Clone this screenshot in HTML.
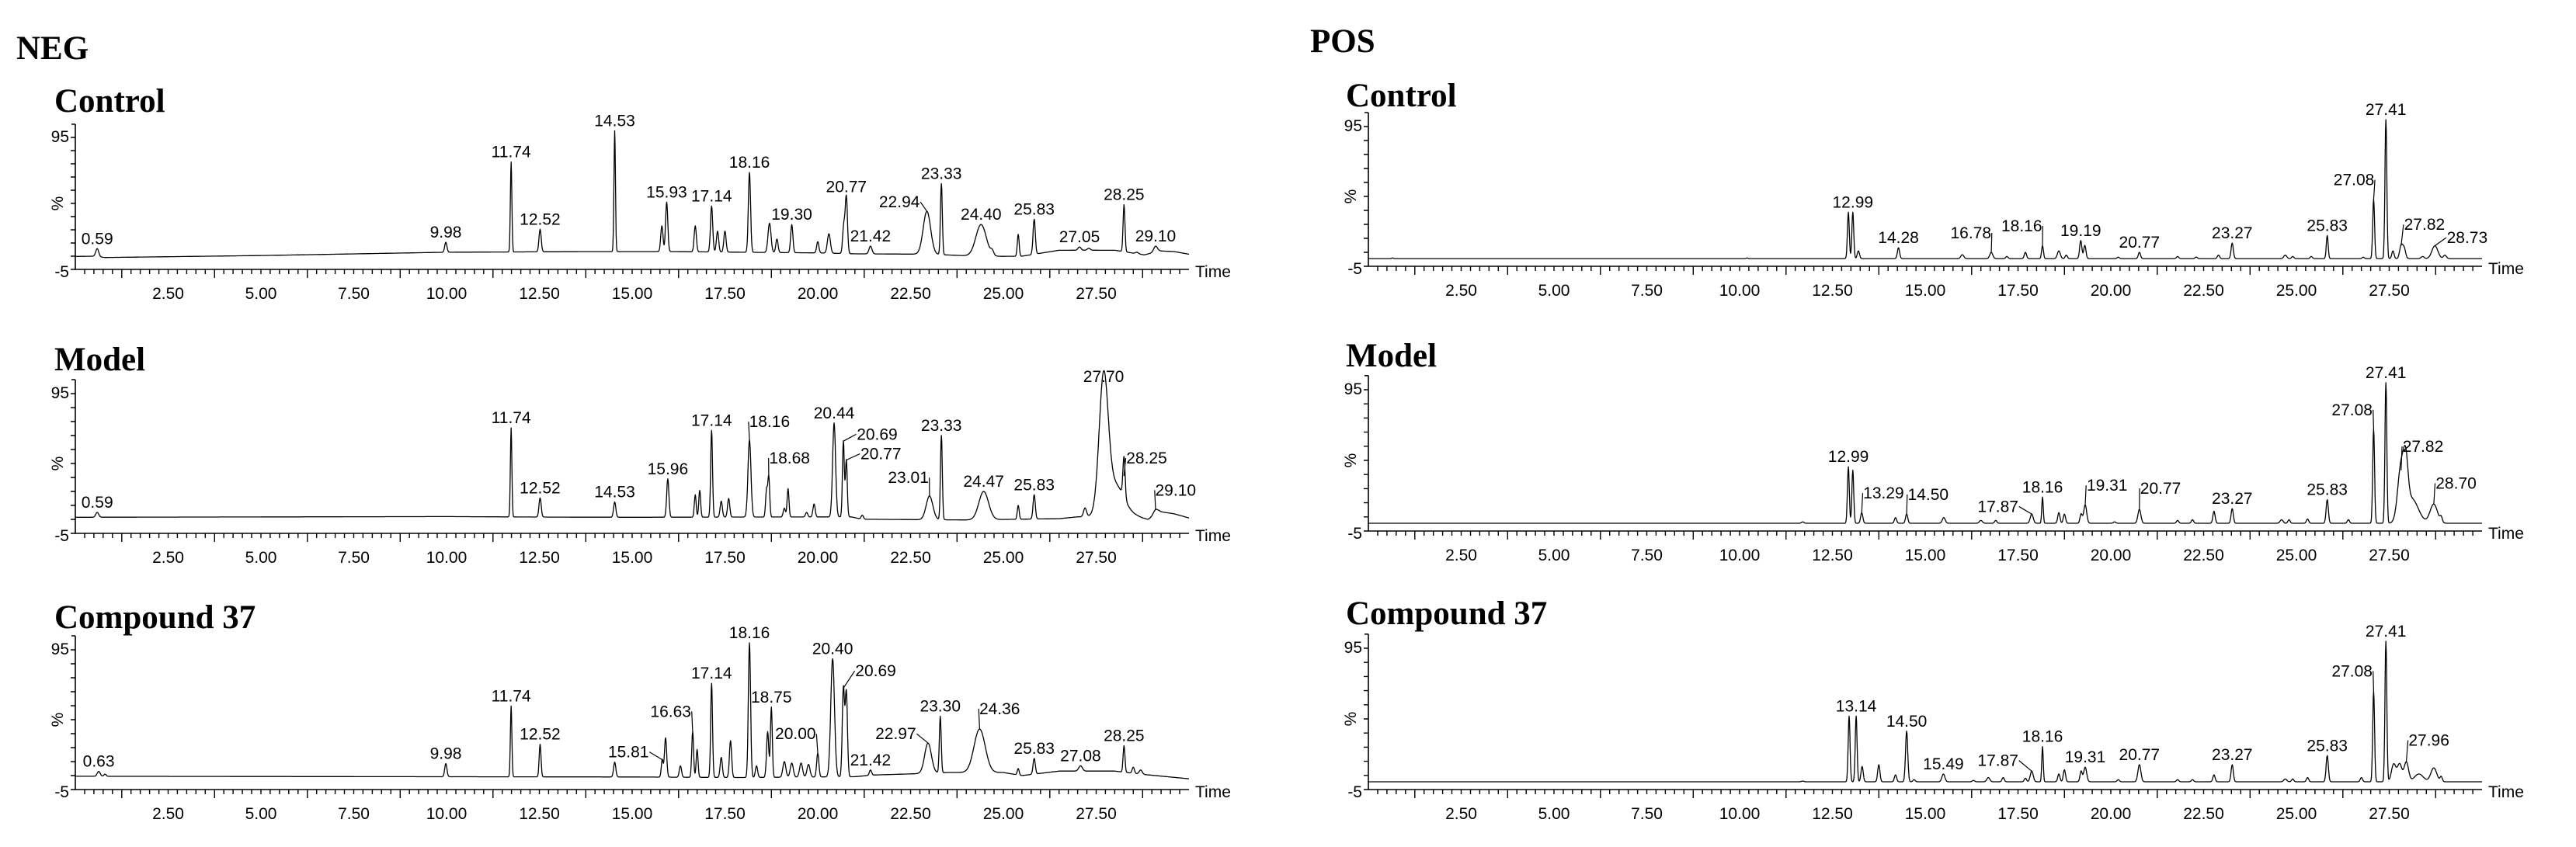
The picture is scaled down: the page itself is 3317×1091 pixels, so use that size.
<!DOCTYPE html>
<html><head><meta charset="utf-8"><title>NEG / POS chromatograms</title>
<style>
html,body{margin:0;padding:0;background:#fff;}
svg{display:block;}
.ttl{font-family:"Liberation Serif",serif;font-weight:bold;font-size:43px;fill:#000;}
.tk{font-family:"Liberation Sans",sans-serif;font-size:21px;fill:#000;}
</style></head>
<body>
<svg id="chart" width="3317" height="1091" viewBox="0 0 3317 1091" xmlns="http://www.w3.org/2000/svg">
<rect width="3317" height="1091" fill="#fff"/>
<text class="ttl" x="21" y="76">NEG</text>
<text class="ttl" x="1687" y="67">POS</text>
</svg>
<script>
// ---------- data: peaks (retention time, height %, width sigma min, label) ----------
// NEG Control
const negCtrlRt = [0.59,9.98,11.74,12.52,14.53,15.80,15.93,16.70,17.14,17.30,17.50,18.16,18.70,18.90,19.30,20.00,20.30,20.70,20.77,21.42,22.94,23.33,24.40,24.70,25.40,25.83,27.05,27.30,28.25,28.60,29.10];
const negCtrlH  = [10.7,15.6,76.4,25.4,100,28,46,28,43,24,24,68.5,30,18,29,16,22,28,50,12.6,39,60,29,8,21.5,33,12,11,44,8,12.6];
const negCtrlW  = [0.04,0.03,0.02,0.03,0.02,0.03,0.03,0.03,0.03,0.03,0.03,0.03,0.04,0.03,0.03,0.03,0.04,0.03,0.03,0.04,0.1,0.025,0.14,0.04,0.025,0.03,0.04,0.04,0.025,0.04,0.05];
const negCtrlLbl= ["0.59","9.98","11.74","12.52","14.53","","15.93","","17.14","","","18.16","","","19.30","","","","20.77","21.42","22.94","23.33","24.40","","","25.83","27.05","","28.25","","29.10"];
const negCtrlBase=[[0,4.8],[0.5,5],[0.8,4],[5,5.5],[10,8],[14,8.5],[16,8.5],[20,7.5],[21,6.8],[23,6.5],[24.5,4.8],[25.5,5],[26.5,9.5],[28,9.5],[28.8,6],[29.2,9],[29.6,8.5],[30,6.5]];
// NEG Model
const negModRt = [0.59,11.74,12.52,14.53,15.96,16.70,16.82,17.14,17.40,17.60,18.16,18.62,18.68,19.10,19.20,19.70,19.90,20.44,20.69,20.77,21.20,23.01,23.33,24.47,25.40,25.83,27.20,27.70,28.00,28.25,29.10];
const negModH  = [10,70.5,20.4,17.5,34,22.6,25.7,68.7,18,20,62,26,35.5,13,27,10,16,74,61,47.5,8,21.7,65,25,15,22.6,13,100,30,36,12];
const negModW  = [0.04,0.02,0.03,0.03,0.03,0.025,0.025,0.025,0.03,0.03,0.04,0.025,0.025,0.03,0.025,0.03,0.03,0.04,0.025,0.025,0.03,0.09,0.025,0.13,0.025,0.03,0.04,0.12,0.25,0.03,0.06];
const negModLbl= ["0.59","11.74","12.52","14.53","15.96","","","17.14","","","18.16","","18.68","","","","","20.44","20.69","20.77","","23.01","23.33","24.47","","25.83","","27.70","","28.25","29.10"];
const negModBase=[[0,6.5],[10,7],[13,6.6],[15,6.5],[20.9,6.8],[21.2,5.1],[24,4.6],[26.5,5.5],[27,6.8],[28.6,6.8],[28.9,5],[29.2,10.6],[29.6,9],[30,6]];
// NEG Compound 37
const negCmpRt = [0.63,0.80,9.98,11.74,12.52,14.53,15.81,15.90,16.30,16.63,16.75,17.14,17.40,17.65,18.16,18.35,18.65,18.75,19.10,19.30,19.55,19.75,20.00,20.40,20.69,20.77,21.42,22.97,23.30,24.36,25.40,25.83,27.08,28.25,28.50,28.70];
const negCmpH  = [8,6,13.6,54.8,27.4,14.6,16.4,32,12,36.5,23.7,71,18,30,100,12,36.5,53.9,15,14,14,13,21,88.6,67.6,64.8,9,28.3,47.5,38.3,10,17.3,12,26.4,11,9];
const negCmpW  = [0.04,0.03,0.03,0.02,0.025,0.03,0.025,0.03,0.03,0.025,0.025,0.025,0.03,0.03,0.03,0.03,0.03,0.025,0.04,0.04,0.04,0.04,0.03,0.05,0.03,0.03,0.03,0.09,0.025,0.15,0.025,0.03,0.05,0.025,0.03,0.04];
const negCmpLbl= ["0.63","","9.98","11.74","12.52","","15.81","","","16.63","","17.14","","","18.16","","","18.75","","","","","20.00","20.40","20.69","","21.42","22.97","23.30","24.36","","25.83","27.08","28.25","",""];
const negCmpBase=[[0,4.5],[15,4],[18,3.6],[21,4.2],[21.5,5.4],[22.5,6.2],[23.5,7.2],[25,7.2],[25.5,5],[26.5,8.2],[28,8.2],[28.7,6],[30,2.7]];
// POS Control
const posCtrlRt = [0.65,10.2,12.93,13.05,13.20,14.28,16.00,16.78,17.20,17.70,18.16,18.60,18.80,19.19,19.30,20.20,20.77,21.80,22.30,22.90,23.27,24.70,24.90,25.40,25.83,26.80,27.08,27.41,27.60,27.82,27.90,28.40,28.73,29.00];
const posCtrlH  = [1,1,33.7,33.7,6,8.3,3.3,5,2,5,9.7,6,3,13.4,10,1.5,5,2,1.6,3,11.6,3,2,2,17,1.5,42.9,100,6,9.7,8,2,9.7,3];
const posCtrlW  = [0.02,0.02,0.025,0.025,0.03,0.03,0.04,0.04,0.03,0.03,0.025,0.04,0.03,0.03,0.03,0.03,0.03,0.03,0.03,0.03,0.03,0.04,0.03,0.03,0.025,0.03,0.025,0.025,0.03,0.04,0.04,0.04,0.08,0.04];
const posCtrlLbl= ["","","","12.99","","14.28","","16.78","","","18.16","","","19.19","","","20.77","","","","23.27","","","","25.83","","27.08","27.41","","27.82","","","28.73",""];
const posCtrlBase=[[0,0.5],[30,0.5]];
// POS Model
const posModRt = [11.70,12.93,13.05,13.29,14.20,14.50,15.50,16.50,16.90,17.87,18.16,18.60,18.75,19.20,19.31,20.10,20.77,21.80,22.20,22.78,23.27,24.60,24.80,25.30,25.83,26.40,27.08,27.41,27.82,27.95,28.10,28.70,28.90];
const posModH  = [1.5,40.5,38,8,4.5,7,4.5,2.5,2.5,7,19,8,7,7,13.5,1.5,10.3,2.5,3,9,10.8,3,3,3.5,17.2,3,67.2,100,38,28,18,14,4];
const posModW  = [0.03,0.025,0.025,0.03,0.03,0.03,0.04,0.04,0.03,0.04,0.02,0.03,0.03,0.03,0.04,0.03,0.04,0.03,0.03,0.03,0.03,0.04,0.03,0.03,0.03,0.03,0.025,0.025,0.09,0.06,0.18,0.1,0.03];
const posModLbl= ["","12.99","","13.29","","14.50","","","","17.87","18.16","","","","19.31","","20.77","","","","23.27","","","","25.83","","27.08","27.41","27.82","","","28.70",""];
const posModBase=[[0,0.5],[30,0.5]];
// POS Compound 37
const posCmpRt = [11.70,12.95,13.14,13.30,13.75,14.20,14.50,14.70,15.49,16.30,16.70,17.10,17.70,17.87,18.16,18.60,18.75,19.20,19.31,20.20,20.77,21.80,22.20,22.78,23.27,24.70,24.90,25.30,25.83,26.75,27.08,27.41,27.62,27.78,27.96,28.30,28.70,28.90];
const posCmpH  = [1,47,47,11.4,12.6,5.4,36.3,2,6,1.5,3.5,3.5,3,8,25.4,6,9,8,10.8,2,12.6,2,2,5.4,12.6,2.5,2.5,3.5,19,3.5,64.5,100,13,13,14.5,6,10.3,4];
const posCmpW  = [0.03,0.025,0.025,0.03,0.03,0.03,0.03,0.03,0.04,0.03,0.04,0.03,0.03,0.04,0.02,0.03,0.03,0.03,0.04,0.03,0.04,0.03,0.03,0.03,0.03,0.04,0.03,0.03,0.03,0.03,0.025,0.025,0.06,0.06,0.06,0.12,0.08,0.03];
const posCmpLbl= ["","","13.14","","","","14.50","","15.49","","","","","17.87","18.16","","","","19.31","","20.77","","","","23.27","","","","25.83","","27.08","27.41","","","27.96","","",""];
const posCmpBase=[[0,0.5],[30,0.5]];

// Offset label positions: label text -> [time, value%] for labels with leader lines
const negCtrlOff = {"22.94":[22.2,42]};
const negModOff  = {"18.16":[18.7,71],"18.68":[19.24,45],"20.69":[21.6,62],"20.77":[21.7,48],"23.01":[22.44,31],"28.25":[28.86,45],"29.10":[29.64,22]};
const negCmpOff  = {"15.81":[14.9,18],"16.63":[16.04,47],"20.00":[19.4,31],"20.69":[21.56,76],"22.97":[22.1,31],"24.36":[24.9,49]};
const posCtrlOff = {"16.78":[16.23,15],"18.16":[17.6,20],"27.08":[26.55,53],"27.82":[28.45,21],"28.73":[29.6,11.6]};
const posModOff  = {"13.29":[13.88,18],"14.50":[15.08,17],"17.87":[16.96,8.5],"19.31":[19.9,23.5],"20.77":[21.34,21.4],"27.08":[26.5,77],"27.82":[28.41,51],"28.70":[29.3,25]};
const posCmpOff  = {"17.87":[16.96,11.7],"27.08":[26.5,75],"27.96":[28.57,26]};

const xTickLabels = ["2.50","5.00","7.50","10.00","12.50","15.00","17.50","20.00","22.50","25.00","27.50"];

// ---------- layout ----------
const NS = "http://www.w3.org/2000/svg";
const svg = document.getElementById('chart');
const PX_PER_MIN = 47.8;
const panels = [
 {name:'neg-control', title:'Control', tx:70, ty:144, x0:97, base:347, s:1.70, rt:negCtrlRt, h:negCtrlH, w:negCtrlW, lbl:negCtrlLbl, bl:negCtrlBase, off:negCtrlOff},
 {name:'neg-model', title:'Model', tx:70, ty:477, x0:97, base:687, s:1.80, rt:negModRt, h:negModH, w:negModW, lbl:negModLbl, bl:negModBase, off:negModOff},
 {name:'neg-compound-37', title:'Compound 37', tx:70, ty:809, x0:97, base:1017, s:1.80, rt:negCmpRt, h:negCmpH, w:negCmpW, lbl:negCmpLbl, bl:negCmpBase, off:negCmpOff},
 {name:'pos-control', title:'Control', tx:1733, ty:137, x0:1762, base:343, s:1.80, rt:posCtrlRt, h:posCtrlH, w:posCtrlW, lbl:posCtrlLbl, bl:posCtrlBase, off:posCtrlOff},
 {name:'pos-model', title:'Model', tx:1733, ty:472, x0:1762, base:684, s:1.82, rt:posModRt, h:posModH, w:posModW, lbl:posModLbl, bl:posModBase, off:posModOff},
 {name:'pos-compound-37', title:'Compound 37', tx:1733, ty:804, x0:1762, base:1017, s:1.82, rt:posCmpRt, h:posCmpH, w:posCmpW, lbl:posCmpLbl, bl:posCmpBase, off:posCmpOff}
];

function el(tag, attrs, parent){
  const e = document.createElementNS(NS, tag);
  for (const k in attrs) e.setAttribute(k, attrs[k]);
  (parent||svg).appendChild(e);
  return e;
}
function baseAt(bl, t){
  for (let i=0;i<bl.length-1;i++){
    if (t>=bl[i][0] && t<=bl[i+1][0]){
      const f=(t-bl[i][0])/(bl[i+1][0]-bl[i][0]);
      return bl[i][1]+f*(bl[i+1][1]-bl[i][1]);
    }
  }
  return bl[bl.length-1][1];
}

panels.forEach(p=>{
  const g = el('g',{});
  
  
  const xs = t => p.x0 + t*PX_PER_MIN;
  const ys = v => p.base - (v+5)*p.s;

  const title = el('text',{class:'ttl', x:p.tx, y:p.ty}, g);
  title.textContent = p.title;
  
  

  // axes
  const xEnd = xs(30);
  const ax = el('path',{d:`M${p.x0},${ys(105)} H${p.x0-5} M${p.x0},${ys(105)} V${p.base} H${xEnd}`, stroke:'#000','stroke-width':1.6, fill:'none'}, g);
  
  
  let yt='';
  for (let v=-5; v<=95; v+=10){ yt += `M${p.x0-6},${ys(v).toFixed(1)} H${p.x0}`; }
  el('path',{d:yt, stroke:'#000','stroke-width':1.4}, g);
  let xt='';
  for (let i=1;i<=119;i++){
    const t=i*0.25; const long = Math.abs(((t-1.25)/2.5)-Math.round((t-1.25)/2.5))<1e-6;
    xt += `M${xs(t).toFixed(1)},${p.base} V${p.base+(long?11:6)}`;
  }
  el('path',{d:xt, stroke:'#000','stroke-width':1.4}, g);
  xTickLabels.forEach(lab=>{
    const tl = el('text',{class:'tk', x:xs(parseFloat(lab)), y:p.base+38,'text-anchor':'middle'}, g);
    tl.textContent = lab;
    
    
  });
  const tm = el('text',{class:'tk', x:xEnd+8, y:p.base+10}, g);
  tm.textContent='Time';
  
  
  const y95 = el('text',{class:'tk', x:p.x0-8, y:ys(95)+6,'text-anchor':'end'}, g);
  y95.textContent='95';
  
  
  const ym5 = el('text',{class:'tk', x:p.x0-8, y:p.base+10,'text-anchor':'end'}, g);
  ym5.textContent='-5';
  
  
  const pc = el('text',{class:'tk', x:0, y:0,'text-anchor':'middle', transform:`translate(${p.x0-16},${ys(45)}) rotate(-90)`}, g);
  pc.textContent='%';
  
  

  // trace
  const amp = p.rt.map((r,i)=> Math.max(0, p.h[i]-baseAt(p.bl,r)));
  let d='';
  for (let k=0;k<=3000;k++){
    const t=k*0.01;
    let v=baseAt(p.bl,t);
    for (let i=0;i<p.rt.length;i++){
      const z=(t-p.rt[i])/p.w[i];
      if (Math.abs(z)<6) v+=amp[i]*Math.exp(-0.5*z*z);
    }
    d += (k?'L':'M')+xs(t).toFixed(1)+','+ys(v).toFixed(1);
  }
  const tr = el('path',{d:d, stroke:'#000','stroke-width':1.3, fill:'none','stroke-linejoin':'round'}, g);
  
  

  // peak labels
  p.lbl.forEach((lab,i)=>{
    if (!lab) return;
    const px = xs(p.rt[i]), py = ys(p.h[i]);
    let lx=px, ly=py-6;
    if (p.off[lab]){
      lx = xs(p.off[lab][0]); ly = ys(p.off[lab][1]);
      const sx = lx<px ? lx+27 : lx-27;
      const ld = el('line',{x1:sx, y1:ly-7, x2:px, y2:py, stroke:'#000','stroke-width':1.2}, g);
      
      
    }
    const t = el('text',{class:'tk', x:lx, y:ly,'text-anchor':'middle'}, g);
    t.textContent = lab;
    
    
  });
});
</script>
</body></html>
